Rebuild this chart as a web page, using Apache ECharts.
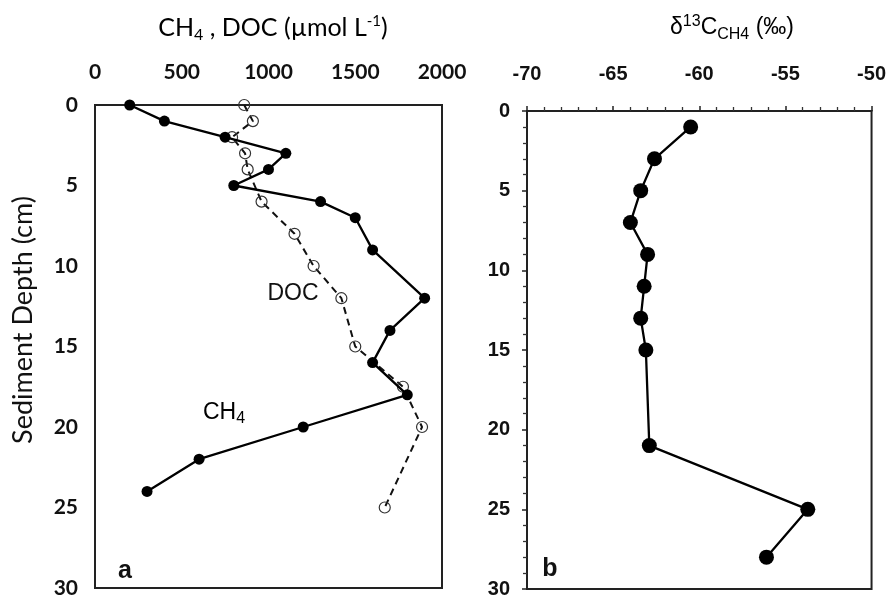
<!DOCTYPE html>
<html>
<head>
<meta charset="utf-8">
<script src="https://cdn.jsdelivr.net/npm/echarts@6/dist/echarts.min.js"></script>
<style>html,body{margin:0;padding:0;background:#fff}#c{width:889px;height:599px}</style>
</head>
<body>
<div id="c"></div>
<script>
// Panel a: CH4 (filled) and DOC (open) vs depth
const depthCH4 = [0, 1, 2, 3, 4, 5, 6, 7, 9, 12, 14, 16, 18, 20, 22, 24];
const ch4Values = [200, 400, 750, 1100, 1000, 800, 1300, 1500, 1600, 1900, 1700, 1600, 1800, 1200, 600, 300];
const depthDOC = [0, 1, 2, 3, 4, 6, 8, 10, 12, 15, 17.5, 20, 25];
const docValues = [860, 910, 790, 865, 880, 960, 1150, 1260, 1420, 1500, 1775, 1885, 1670];
// Panel b: d13C-CH4 vs depth
const depthD13 = [1, 3, 5, 7, 9, 11, 13, 15, 21, 25, 28];
const d13Values = [-60.5, -62.6, -63.4, -64.0, -63.0, -63.2, -63.4, -63.1, -62.9, -53.7, -56.1];
// Axis ticks
const concTicks = [0, 500, 1000, 1500, 2000];
const d13Ticks = [-70, -65, -60, -55, -50];
const depthTicks = [0, 5, 10, 15, 20, 25, 30];

const pairs = (xs, ys) => xs.map((x, i) => [x, ys[i]]);
const plain = v => String(v);

const chart = echarts.init(document.getElementById('c'), null, {renderer: 'canvas'});
const calibri = 'Lato, "Open Sans", sans-serif';
const arial = '"Liberation Sans", Arial, sans-serif';

const tickStyle = {show: true, inside: false, length: 5, lineStyle: {color: '#222', width: 1.5}};
const minorStyle = {show: true, splitNumber: 5, length: 4, lineStyle: {color: '#333', width: 1.3}};

const option = {
  animation: false,
  backgroundColor: '#fff',
  grid: [
    {left: 95, top: 105, width: 347, height: 483, show: true, borderColor: '#222', borderWidth: 2, backgroundColor: 'transparent'},
    {left: 527, top: 111, width: 345, height: 481, show: true, borderColor: '#222', borderWidth: 2, backgroundColor: 'transparent'}
  ],
  xAxis: [
    {
      gridIndex: 0, type: 'value', position: 'top',
      min: concTicks[0], max: concTicks[concTicks.length - 1], interval: 500,
      axisLine: {show: true, onZero: false, lineStyle: {color: '#222', width: 2}},
      axisTick: {show: false},
      splitLine: {show: false},
      axisLabel: {margin: 22, color: '#111', fontFamily: calibri, fontWeight: 'bold', fontSize: 21, formatter: plain}
    },
    {
      gridIndex: 1, type: 'value', position: 'top',
      min: d13Ticks[0], max: d13Ticks[d13Ticks.length - 1], interval: 5,
      axisLine: {show: true, onZero: false, lineStyle: {color: '#222', width: 2}},
      axisTick: tickStyle,
      minorTick: minorStyle,
      splitLine: {show: false},
      axisLabel: {margin: 27, color: '#111', fontFamily: arial, fontWeight: 'bold', fontSize: 20, formatter: plain}
    }
  ],
  yAxis: [
    {
      gridIndex: 0, type: 'value', inverse: true,
      min: depthTicks[0], max: depthTicks[depthTicks.length - 1], interval: 5,
      axisLine: {show: true, onZero: false, lineStyle: {color: '#222', width: 2}},
      axisTick: {show: false},
      splitLine: {show: false},
      axisLabel: {margin: 17, color: '#111', fontFamily: calibri, fontWeight: 'bold', fontSize: 21, formatter: plain}
    },
    {
      gridIndex: 1, type: 'value', inverse: true,
      min: depthTicks[0], max: depthTicks[depthTicks.length - 1], interval: 5,
      axisLine: {show: true, onZero: false, lineStyle: {color: '#222', width: 2}},
      axisTick: tickStyle,
      minorTick: minorStyle,
      splitLine: {show: false},
      axisLabel: {margin: 17, color: '#111', fontFamily: arial, fontWeight: 'bold', fontSize: 20, formatter: plain}
    }
  ],
  series: [
    {
      name: 'DOC', type: 'line', xAxisIndex: 0, yAxisIndex: 0,
      data: pairs(docValues, depthDOC),
      symbol: 'circle', symbolSize: 11,
      itemStyle: {color: 'rgba(255,255,255,0)', borderColor: '#333', borderWidth: 1.2},
      lineStyle: {color: '#111', width: 2, type: [7, 5]},
      z: 2
    },
    {
      name: 'CH4', type: 'line', xAxisIndex: 0, yAxisIndex: 0,
      data: pairs(ch4Values, depthCH4),
      symbol: 'circle', symbolSize: 11,
      itemStyle: {color: '#000', borderWidth: 0},
      lineStyle: {color: '#000', width: 2.3},
      z: 3
    },
    {
      name: 'd13C', type: 'line', xAxisIndex: 1, yAxisIndex: 1,
      data: pairs(d13Values, depthD13),
      symbol: 'circle', symbolSize: 15,
      itemStyle: {color: '#000', borderWidth: 0},
      lineStyle: {color: '#000', width: 2.3},
      z: 3
    }
  ],
  graphic: [
    {
      type: 'text', x: 273, y: 28,
      style: {
        text: '{m|CH}{s|4}{m| , DOC (µmol L}{p|-1}{m|)}',
        textAlign: 'center', textVerticalAlign: 'middle',
        rich: {
          m: {fontFamily: calibri, fontSize: 25, color: '#111'},
          s: {fontFamily: calibri, fontSize: 16, padding: [13, 0, 0, 0], color: '#111'},
          p: {fontFamily: calibri, fontSize: 15, padding: [0, 0, 13, 0], color: '#111'}
        }
      }
    },
    {
      type: 'text', x: 732, y: 28,
      style: {
        text: '{m|δ}{p|13}{m|C}{s|CH4}{m| (‰)}',
        textAlign: 'center', textVerticalAlign: 'middle',
        rich: {
          m: {fontFamily: arial, fontSize: 23, color: '#111'},
          s: {fontFamily: arial, fontSize: 16, padding: [13, 0, 0, 0], color: '#111'},
          p: {fontFamily: arial, fontSize: 16, padding: [0, 0, 13, 0], color: '#111'}
        }
      }
    },
    {
      type: 'text', x: 23, y: 320, rotation: Math.PI / 2,
      style: {
        text: 'Sediment Depth (cm)', textAlign: 'center', textVerticalAlign: 'middle',
        font: '27px ' + calibri, fill: '#111'
      }
    },
    {
      type: 'text', x: 293, y: 294,
      style: {text: 'DOC', textAlign: 'center', textVerticalAlign: 'middle', font: '23px ' + arial, fill: '#111'}
    },
    {
      type: 'text', x: 203, y: 413,
      style: {
        text: '{m|CH}{s|4}', textAlign: 'left', textVerticalAlign: 'middle',
        rich: {
          m: {fontFamily: arial, fontSize: 23, color: '#111'},
          s: {fontFamily: arial, fontSize: 16, padding: [12, 0, 0, 0], color: '#111'}
        }
      }
    },
    {
      type: 'text', x: 125, y: 571,
      style: {text: 'a', textAlign: 'center', textVerticalAlign: 'middle', font: 'bold 25px ' + arial, fill: '#111'}
    },
    {
      type: 'text', x: 550, y: 569,
      style: {text: 'b', textAlign: 'center', textVerticalAlign: 'middle', font: 'bold 25px ' + arial, fill: '#111'}
    }
  ]
};
chart.setOption(option);
</script>
</body>
</html>
